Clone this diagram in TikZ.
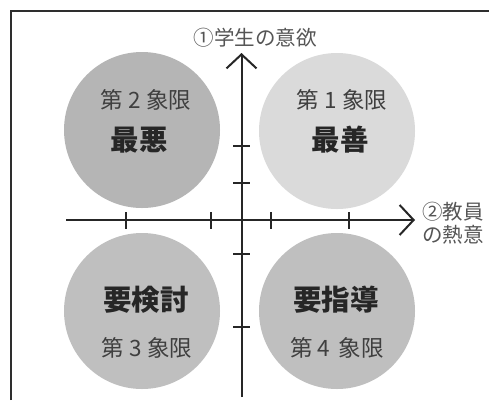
\documentclass[tikz,border=0pt]{standalone}
\usepackage{fontspec}
\setmainfont{Noto Sans CJK JP}
\usetikzlibrary{arrows.meta}
\definecolor{qdark}{HTML}{B5B5B5}
\definecolor{qlight}{HTML}{DADADA}
\definecolor{qmid}{HTML}{BFBFBF}
\definecolor{axisc}{HTML}{262626}
\definecolor{labc}{HTML}{555555}
\definecolor{quadc}{HTML}{3F3F3F}
\definecolor{framec}{HTML}{2E2E2E}
\tikzset{
  quad/.style={circle, minimum size=156pt, inner sep=0pt, draw=none},
  axisline/.style={line width=2pt, draw=axisc, -{Straight Barb[length=14pt,width=30pt,line width=2pt]}},
  tick/.style={line width=2pt, draw=axisc},
  qname/.style={font=\fontsize{22.5}{24}\selectfont, text=quadc},
  qbig/.style={font=\fontsize{28.5}{30}\selectfont\bfseries, text=black!85},
  axlab/.style={font=\fontsize{20.5}{23}\selectfont, text=labc, inner sep=0pt},
  framel/.style={line width=2pt, draw=framec}
}
\begin{document}
\begin{tikzpicture}[x=1pt,y=-1pt]
\useasboundingbox (0,0) rectangle (489,400);
\fill[white] (0,0) rectangle (489,400);
% frame
\coordinate (fbl) at (11,400);
\coordinate (ftl) at (11,11);
\coordinate (ftr) at (489,11);
\draw[framel] (fbl) -- (ftl) -- (ftr);
% circles
\node[quad, fill=qdark] (q2) at (142,130) {};
\node[quad, fill=qlight] (q1) at (337,131) {};
\node[quad, fill=qmid] (q3) at (142,311) {};
\node[quad, fill=qmid] (q4) at (337,311) {};
% quadrant texts
\node[qname] (q2a) at (146,100) {第 2 象限};
\node[qbig] (q2b) at (139,140) {最悪};
\node[qname] (q1a) at (342,100) {第 1 象限};
\node[qbig] (q1b) at (340,140) {最善};
\node[qbig] (q3b) at (146,300) {要検討};
\node[qname] (q3a) at (147,348) {第 3 象限};
\node[qbig] (q4b) at (336,300) {要指導};
\node[qname] (q4a) at (337,348) {第 4 \,象限};
% axes
\coordinate (vbot) at (241.5,397);
\coordinate (vtop) at (241.5,53);
\coordinate (hleft) at (66,220);
\coordinate (hright) at (415,220);
\draw[axisline] (vbot) -- (vtop);
\draw[axisline] (hleft) -- (hright);
% ticks
\foreach \y/\n in {146/a,183/b,254/c,327/d}{
  \coordinate (vt\n l) at (233,\y);
  \coordinate (vt\n r) at (250,\y);
  \draw[tick] (vt\n l) -- (vt\n r);
}
\foreach \x/\n in {126/a,211/b,271/c,349/d}{
  \coordinate (ht\n t) at (\x,212);
  \coordinate (ht\n b) at (\x,228.5);
  \draw[tick] (ht\n t) -- (ht\n b);
}
% axis labels
\node[axlab] (ylab) at (255,38) {①学生の意欲};
\node[axlab, anchor=west, align=left] (xlab) at (422,223) {②教員\\の熱意};
\end{tikzpicture}
\end{document}
